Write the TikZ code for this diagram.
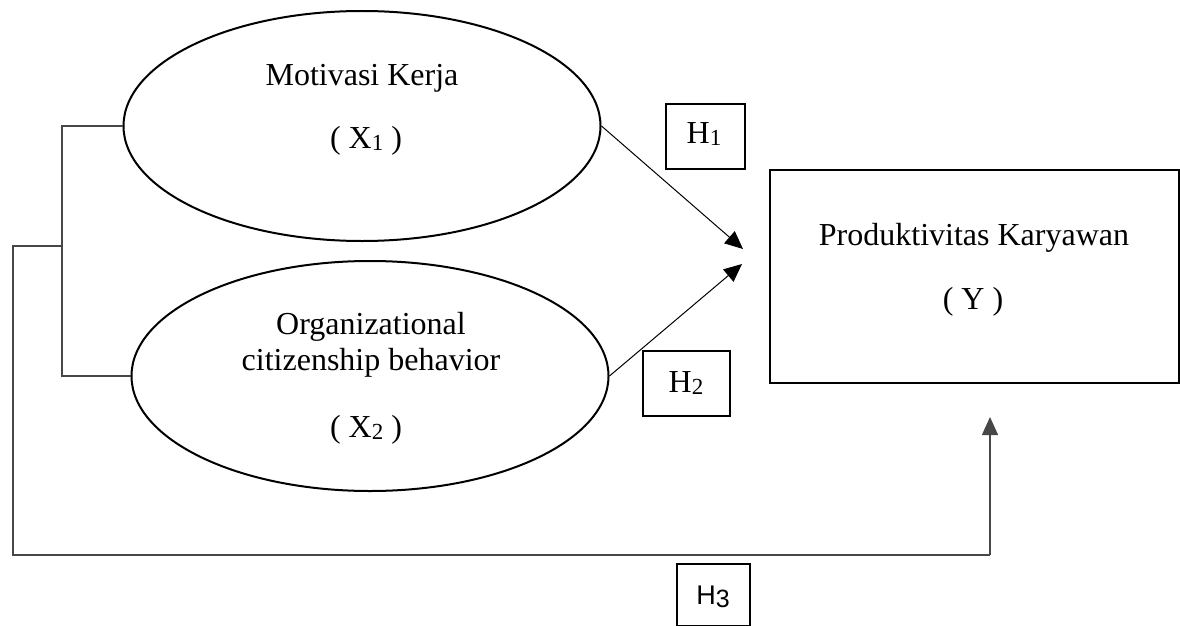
\documentclass[tikz,border=0pt]{standalone}
\usepackage{fontspec}
\setmainfont{Liberation Serif}
\newfontfamily\arialf{Liberation Sans}
\usetikzlibrary{shapes.geometric,arrows.meta}
\newcommand\sbs[1]{\raisebox{-2.5pt}{\fontsize{23}{23}\selectfont #1}}
\begin{document}
\begin{tikzpicture}[x=1pt,y=-1pt,
 ell/.style={draw,ellipse,line width=2pt,minimum width=477pt,minimum height=230pt,inner sep=0pt},
 hbox/.style={draw,line width=1.8pt,inner sep=0pt,anchor=north west},
 lbl/.style={anchor=base,inner sep=0pt,font=\fontsize{32}{38}\selectfont},
 conn/.style={draw=black!72,line width=1.5pt},
 tip/.style={-{Triangle[length=18pt,width=16pt]}},
 arr/.style={draw=black,line width=1pt,tip}]
\useasboundingbox (0,0) rectangle (1180,626);
\fill[white] (0,0) rectangle (1180,626);

% ellipses
\node[ell] (e1) at (362,126) {};
\node[ell] (e2) at (370,376) {};
\node[lbl] (t1a) at (362,85) {Motivasi Kerja};
\node[lbl] (t1b) at (366,148) {( X\sbs{1} )};
\node[lbl] (t2a) at (371,334) {Organizational};
\node[lbl] (t2b) at (371,370) {citizenship behavior};
\node[lbl] (t2c) at (366,437) {( X\sbs{2} )};

% Y box
\node[hbox,minimum width=409pt,minimum height=213pt] (y) at (769,169) {};
\node[lbl] (ya) at (974,245) {Produktivitas Karyawan};
\node[lbl] (yb) at (973,309) {( Y )};

% H boxes
\node[hbox,minimum width=79pt,minimum height=65pt] (h1) at (665,103) {};
\node[lbl] (h1t) at (704,143) {H\sbs{1}};
\node[hbox,minimum width=87pt,minimum height=65pt] (h2) at (642,350) {};
\node[lbl] (h2t) at (686,392) {H\sbs{2}};
\node[hbox,minimum width=73pt,minimum height=62pt] (h3) at (676,563) {};
\node[anchor=base,inner sep=0pt] (h3t) at (713,604) {\arialf\fontsize{27}{30}\selectfont H\raisebox{-3pt}{\fontsize{25}{25}\selectfont 3}};

% arrows to Y
\coordinate (a1) at (743,249);
\coordinate (a2) at (742,264);
\draw[arr] (e1.east) -- (a1);
\draw[arr] (e2.east) -- (a2);

% bracket
\coordinate (bt) at (62,126);
\coordinate (bb) at (62,376);
\coordinate (bm) at (62,246);
\draw[conn] (e1.west) -- (bt) -- (bb) -- (e2.west);

% long path
\coordinate (l1) at (13,246);
\coordinate (l2) at (13,555);
\coordinate (l3) at (990,555);
\coordinate (a3) at (990,417);
\draw[conn] (bm) -- (l1) -- (l2) -- (l3);
\draw[conn,tip] (l3) -- (a3);
\end{tikzpicture}
\end{document}
